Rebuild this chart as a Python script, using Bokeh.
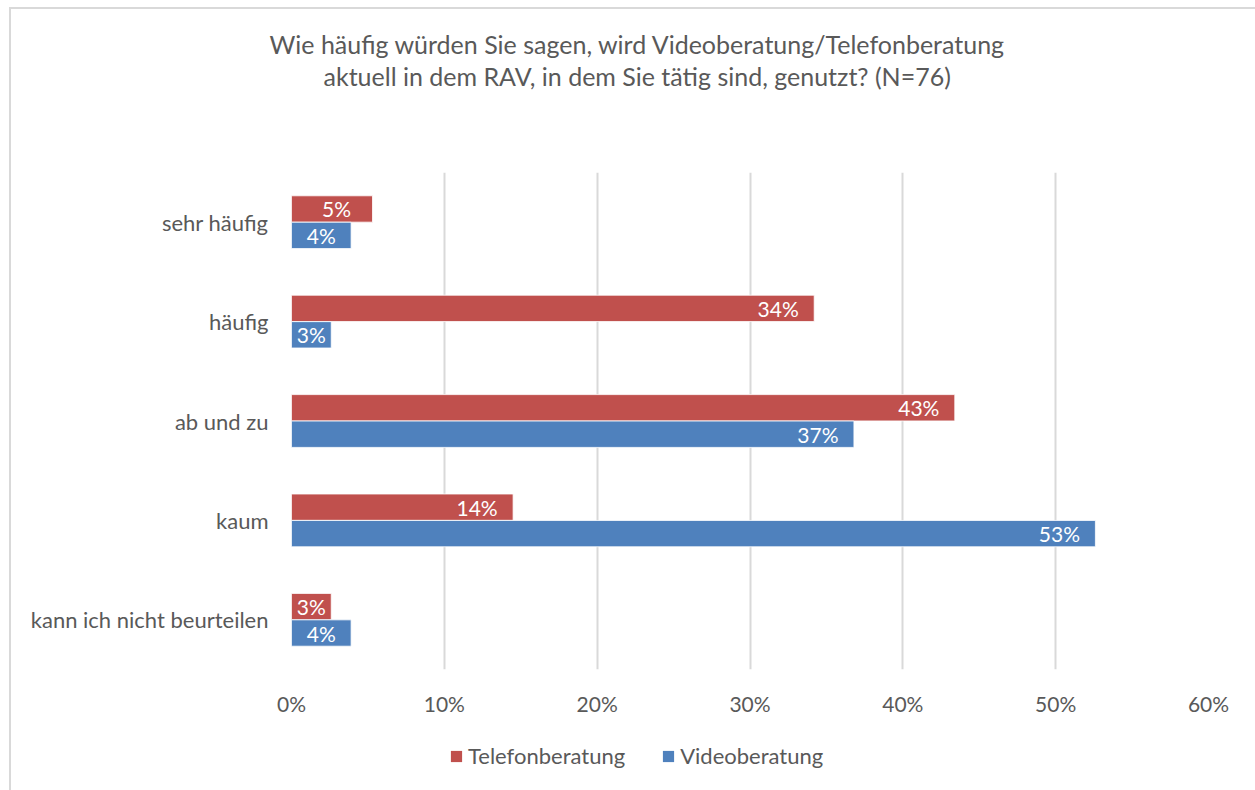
from bokeh.plotting import figure
from bokeh.layouts import column
from bokeh.models import (ColumnDataSource, FactorRange, Range1d, NumeralTickFormatter,
                          FixedTicker, Legend, LegendItem, Title, InlineStyleSheet)
from bokeh.transform import dodge
from bokeh.core.properties import value
from bokeh.embed import file_html
from bokeh.resources import INLINE

# ---- data ----
categories = ["sehr häufig", "häufig", "ab und zu", "kaum", "kann ich nicht beurteilen"]
telefon = [0.053, 0.342, 0.434, 0.145, 0.026]
video = [0.039, 0.026, 0.368, 0.526, 0.039]
series_names = ["Telefonberatung", "Videoberatung"]
x_ticks = [0, 0.1, 0.2, 0.3, 0.4, 0.5, 0.6]
title_line1 = "Wie häufig würden Sie sagen, wird Videoberatung/Telefonberatung"
title_line2 = "aktuell in dem RAV, in dem Sie tätig sind, genutzt? (N=76)"

RED = "#C0504D"
BLUE = "#4F81BD"
TXT = "#595959"
FONT = "Lato"

W, H = 1255, 790
LEG_H = 70
MAIN_H = H - LEG_H
FL, FR, FT, FB = 291, 1208, 172, 669  # frame edges in canvas px

css_top = InlineStyleSheet(css="""
:host { position: relative; }
:host::after { content: ''; position: absolute; left: 9px; top: 7px; right: 0; bottom: 0;
  border-top: 2px solid #d9d9d9; border-left: 2px solid #d9d9d9; pointer-events: none; }
""")
css_bottom = InlineStyleSheet(css="""
:host { position: relative; }
:host::after { content: ''; position: absolute; left: 9px; top: 0; right: 0; bottom: 0;
  border-left: 2px solid #d9d9d9; pointer-events: none; }
""")

p = figure(width=W, height=MAIN_H, output_backend="svg", toolbar_location=None,
           y_range=FactorRange(factors=categories[::-1], range_padding=0),
           x_range=Range1d(0, 0.6),
           min_border_left=FL, min_border_right=W - FR,
           min_border_top=FT, min_border_bottom=MAIN_H - FB,
           stylesheets=[css_top])
p.outline_line_color = None
p.background_fill_color = "white"
p.border_fill_color = "white"

end_pad = 0.6 * 36 / (FR - FL)  # ~36px from bar end to label centre


def label_x(vals):
    return [max(v / 2, v - end_pad) for v in vals]


src = ColumnDataSource(dict(
    cat=categories,
    tel=telefon, vid=video,
    tel_lab=[f"{round(v * 100)}%" for v in telefon],
    vid_lab=[f"{round(v * 100)}%" for v in video],
    tel_x=label_x(telefon), vid_x=label_x(video),
))

bh = 0.265
off = 0.133
p.hbar(y=dodge("cat", off, range=p.y_range), right="tel", left=0, height=bh,
       source=src, fill_color=RED, line_color="white", line_width=0.8)
p.hbar(y=dodge("cat", -off, range=p.y_range), right="vid", left=0, height=bh,
       source=src, fill_color=BLUE, line_color="white", line_width=0.8)

p.text(x="tel_x", y=dodge("cat", off, range=p.y_range), text="tel_lab", source=src,
       text_color="white", text_font=value(FONT), text_font_size="21px",
       text_align="center", text_baseline="middle")
p.text(x="vid_x", y=dodge("cat", -off, range=p.y_range), text="vid_lab", source=src,
       text_color="white", text_font=value(FONT), text_font_size="21px",
       text_align="center", text_baseline="middle")

# axes
p.xaxis.ticker = FixedTicker(ticks=x_ticks)
p.xaxis.formatter = NumeralTickFormatter(format="0%")
for ax in (p.xaxis[0], p.yaxis[0]):
    ax.axis_line_color = None
    ax.major_tick_line_color = None
    ax.minor_tick_line_color = None
    ax.major_label_text_color = TXT
    ax.major_label_text_font = FONT
    ax.major_label_text_font_size = "22px"
p.xaxis.major_label_text_font_size = "21px"
p.xaxis.major_label_standoff = 15
p.yaxis.major_label_standoff = 17

p.xgrid.grid_line_color = "#d9d9d9"
p.xgrid.grid_line_width = 2
p.ygrid.grid_line_color = None

# title: spacer (closest to frame), then line 2, then line 1
p.add_layout(Title(text=" ", standoff=57, text_font_size="21px",
                   vertical_align="bottom"), "above")
p.add_layout(Title(text=title_line2, align="left", offset=32, vertical_align="bottom",
                   standoff=0, text_color=TXT, text_font=FONT, text_font_size="25px",
                   text_font_style="normal"), "above")
p.add_layout(Title(text=title_line1, align="left", offset=-22, vertical_align="bottom",
                   standoff=0, text_color=TXT, text_font=FONT, text_font_size="25px",
                   text_font_style="normal"), "above")

# legend strip (its frame is aligned with the main frame by the column layout)
pl = figure(width=W, height=LEG_H, output_backend="svg", toolbar_location=None,
            x_axis_type=None, y_axis_type=None, x_range=Range1d(0, 1), y_range=Range1d(0, 1),
            min_border=0, stylesheets=[css_bottom])
pl.outline_line_color = None
pl.grid.grid_line_color = None
# off-range placeholder glyphs, only used to draw the legend swatches
swatch = ColumnDataSource(dict(y=[-5], r=[1]))
lr1 = pl.hbar(y="y", right="r", left=0, height=0.5, source=swatch, fill_color=RED, line_color=None)
lr2 = pl.hbar(y="y", right="r", left=0, height=0.5, source=swatch, fill_color=BLUE, line_color=None)
legend = Legend(items=[LegendItem(label=series_names[0], renderers=[lr1]),
                       LegendItem(label=series_names[1], renderers=[lr2])],
                orientation="horizontal", location=(449 - FL, 21),
                border_line_color=None, background_fill_alpha=0,
                glyph_width=14, glyph_height=14, label_standoff=5, spacing=36,
                padding=0, margin=0,
                label_text_font=FONT, label_text_font_size="22px",
                label_text_color=TXT)
pl.add_layout(legend, "center")

open("out.html", "w").write(file_html(column(p, pl, spacing=0), INLINE))
